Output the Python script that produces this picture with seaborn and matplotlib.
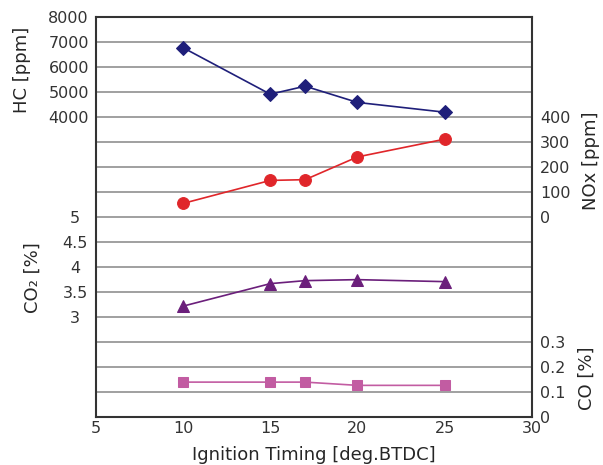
import matplotlib.pyplot as plt
import seaborn as sns
import pandas as pd

# values
timing = [10, 15, 17, 20, 25]
hc = [6780, 4920, 5240, 4590, 4200]
nox = [55, 147, 150, 241, 312]
co2 = [3.22, 3.67, 3.73, 3.75, 3.71]
co = [0.14, 0.14, 0.14, 0.127, 0.127]

x_ticks = [5, 10, 15, 20, 25, 30]
hc_ticks = [4000, 5000, 6000, 7000, 8000]
nox_ticks = [0, 100, 200, 300, 400]
co2_ticks = [3, 3.5, 4, 4.5, 5]
co2_labels = ["3", "3.5", "4", "4.5", "5"]
co_ticks = [0, 0.1, 0.2, 0.3]

df = pd.DataFrame({"timing": timing, "HC": hc, "NOx": nox, "CO2": co2, "CO": co})

sns.set_style("white")
plt.rcParams["font.family"] = ["DejaVu Sans"]
tick_col = "#333333"
fs_tick = 11.5
fs_lab = 13

fig = plt.figure(figsize=(6.03, 4.65), dpi=100)
ax = fig.add_axes([0.159, 0.103, 0.723, 0.860])
ax_nox = ax.twinx()
ax_co2 = ax.twinx()
ax_co = ax.twinx()

# HC (left, top)
sns.lineplot(data=df, x="timing", y="HC", ax=ax, color="#1f1f7a", marker="D",
             markersize=7, markeredgecolor="#1f1f7a", linewidth=1.2)
# NOx (right, upper-middle)
sns.lineplot(data=df, x="timing", y="NOx", ax=ax_nox, color="#e0262a", marker="o",
             markersize=8.5, markeredgecolor="#e0262a", linewidth=1.2)
# CO2 (left, lower-middle)
sns.lineplot(data=df, x="timing", y="CO2", ax=ax_co2, color="#6b1f7b", marker="^",
             markersize=8, markeredgecolor="#6b1f7b", linewidth=1.2)
# CO (right, bottom)
sns.lineplot(data=df, x="timing", y="CO", ax=ax_co, color="#c25ca2", marker="s",
             markersize=7, markeredgecolor="#c25ca2", linewidth=1.2)

ax.set_xlim(5, 30)
ax.set_ylim(-8000, 8000)
ax_nox.set_ylim(-800, 800)
ax_co2.set_ylim(1, 9)
ax_co.set_ylim(0, 1.6)

# gridlines: 16 equal bands, drawn from the HC axis
grid_vals = list(range(-8000, 8001, 1000))
ax.set_yticks(grid_vals)
ax.set_yticklabels([str(v) if v in hc_ticks else "" for v in grid_vals])
ax.grid(axis="y", color="#a0a0a0", linewidth=1.4)
ax.set_xticks(x_ticks)
ax.tick_params(axis="both", length=0, labelsize=fs_tick, labelcolor=tick_col)
ax.tick_params(axis="x", pad=3)
ax.tick_params(axis="y", pad=5)

ax_nox.set_yticks(nox_ticks)
ax_nox.tick_params(axis="y", length=0, labelsize=fs_tick, labelcolor=tick_col, pad=6)

ax_co2.yaxis.tick_left()
ax_co2.set_yticks(co2_ticks)
ax_co2.set_yticklabels(co2_labels)
ax_co2.tick_params(axis="y", length=0, labelsize=fs_tick, labelcolor=tick_col, pad=15)
for t in ax_co2.get_yticklabels():
    t.set_horizontalalignment("center")

ax_co.set_yticks(co_ticks)
ax_co.set_yticklabels(["0", "0.1", "0.2", "0.3"])
ax_co.tick_params(axis="y", length=0, labelsize=fs_tick, labelcolor=tick_col, pad=6)

for a in (ax, ax_nox, ax_co2, ax_co):
    a.set_xlabel("")
    a.set_ylabel("")
    a.grid(axis="x", visible=False)
for a in (ax_nox, ax_co2, ax_co):
    for s in a.spines.values():
        s.set_visible(False)
    a.grid(False)
for s in ax.spines.values():
    s.set_visible(True)
    s.set_color("#333333")
    s.set_linewidth(1.5)

fig.text(0.036, 0.85, "HC [ppm]", rotation=90, ha="center", va="center", fontsize=fs_lab)
fig.text(0.055, 0.404, "CO\u2082 [%]", rotation=90, ha="center", va="center", fontsize=fs_lab)
fig.text(0.980, 0.654, "NOx [ppm]", rotation=90, ha="center", va="center", fontsize=fs_lab)
fig.text(0.973, 0.187, "CO [%]", rotation=90, ha="center", va="center", fontsize=fs_lab)
fig.text(0.52, 0.022, "Ignition Timing [deg.BTDC]", ha="center", va="center", fontsize=fs_lab)

fig.savefig("out.png", dpi=100)
